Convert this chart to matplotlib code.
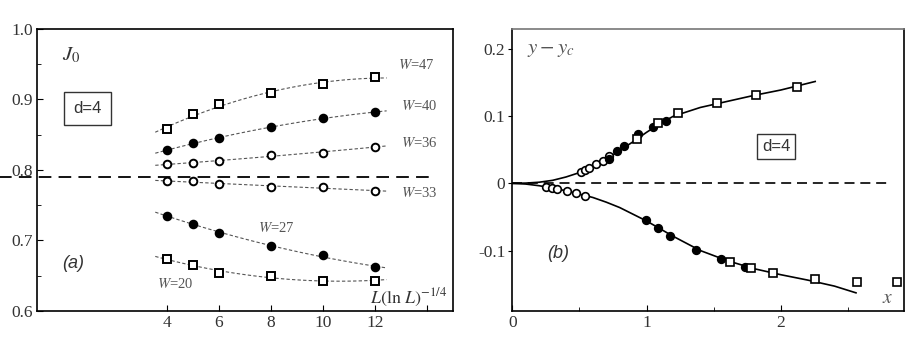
import numpy as np
import matplotlib
matplotlib.use('Agg')
import matplotlib.pyplot as plt

plt.rcParams['font.family'] = 'Liberation Serif'
plt.rcParams['mathtext.fontset'] = 'stix'

# ---- panel (a) data: J0 vs L(lnL)^-1/4 for several W
L_vals = [4, 5, 6, 8, 10, 12]
J_w47 = [0.8575, 0.879, 0.8935, 0.9086, 0.9219, 0.9318]
J_w40 = [0.828, 0.838, 0.845, 0.861, 0.873, 0.882]
J_w36 = [0.808, 0.810, 0.813, 0.821, 0.824, 0.833]
J_w33 = [0.784, 0.784, 0.780, 0.776, 0.776, 0.770]
J_w27 = [0.735, 0.724, 0.710, 0.692, 0.679, 0.6625]
J_w20 = [0.674, 0.665, 0.654, 0.649, 0.643, 0.643]
J_crit = 0.790

# ---- panel (b) data: scaled collapse
up_open_x = [0.512, 0.539, 0.569, 0.621, 0.673, 0.723]
up_open_y = [0.0169, 0.0199, 0.0234, 0.0289, 0.0338, 0.0413]
up_fill_x = [0.723, 0.778, 0.830, 0.939, 1.046, 1.148]
up_fill_y = [0.0368, 0.0483, 0.0562, 0.0741, 0.0836, 0.0925]
up_sq_x = [0.927, 1.088, 1.232, 1.528, 1.816, 2.119]
up_sq_y = [0.0667, 0.090, 0.1055, 0.1194, 0.1323, 0.1428]

lo_open_x = [0.251, 0.296, 0.335, 0.405, 0.472, 0.542]
lo_open_y = [-0.005, -0.007, -0.009, -0.0114, -0.0144, -0.0184]
lo_fill_x = [0.994, 1.083, 1.178, 1.369, 1.553, 1.734]
lo_fill_y = [-0.0552, -0.0662, -0.0786, -0.0985, -0.1124, -0.1249]
lo_sq_x = [1.620, 1.779, 1.943, 2.253, 2.566, 2.867]
lo_sq_y = [-0.1169, -0.1264, -0.1338, -0.1423, -0.1463, -0.1473]

# scaling curves
up_curve_x = [0, 0.1, 0.2, 0.3, 0.4, 0.5, 0.6, 0.7, 0.8, 0.9, 1.0, 1.1, 1.2, 1.4, 1.6, 1.8, 2.0, 2.256]
up_curve_y = [0, 0.0004, 0.0017, 0.0045, 0.0095, 0.016, 0.025, 0.036, 0.049, 0.062, 0.076, 0.089, 0.100, 0.113, 0.122, 0.131, 0.139, 0.1517]
lo_curve_x = [0, 0.1, 0.2, 0.3, 0.4, 0.5, 0.6, 0.7, 0.8, 0.9, 1.0, 1.2, 1.4, 1.6, 1.8, 2.0, 2.2, 2.4, 2.56]
lo_curve_y = [0, -0.001, -0.0035, -0.007, -0.011, -0.016, -0.021, -0.028, -0.036, -0.046, -0.056, -0.079, -0.100, -0.115, -0.127, -0.136, -0.144, -0.153, -0.163]

fig = plt.figure(figsize=(9.13, 3.44), dpi=100)
ax1 = fig.add_axes([0.0405, 0.096, 0.4556, 0.820])
ax2 = fig.add_axes([0.5611, 0.096, 0.4294, 0.820])

txt = '#333333'
gray = '#555555'

# ---------------- panel (a)
series = [(J_w47, 's', 'white', r'$W$=47', (12.9, 0.949)),
          (J_w40, 'o', 'black', r'$W$=40', (13.0, 0.890)),
          (J_w36, 'o', 'white', r'$W$=36', (13.0, 0.838)),
          (J_w33, 'o', 'white', r'$W$=33', (13.0, 0.768)),
          (J_w27, 'o', 'black', r'$W$=27', (7.5, 0.717)),
          (J_w20, 's', 'white', r'$W$=20', (3.6, 0.638))]
xfit = np.linspace(3.55, 12.45, 100)
for J, m, fc, lab, pos in series:
    coef = np.polyfit(L_vals, J, 2)
    ax1.plot(xfit, np.polyval(coef, xfit), '--', color=gray, lw=0.8, dashes=(3, 2), zorder=1)
    ax1.plot(L_vals, J, m, mfc=fc, mec='black', mew=1.4, ms=5.5, ls='none', zorder=3)
    ax1.text(pos[0], pos[1], lab, fontsize=10.5, color=gray, ha='left', va='center')

ax1.plot([-2.45, 14.3], [J_crit, J_crit], color='black', lw=1.3, dashes=(7, 4), clip_on=False)

ax1.set_xlim(-1, 15)
ax1.set_ylim(0.6, 1.0)
ax1.set_xticks([4, 6, 8, 10, 12, 14])
ax1.set_xticklabels(['4', '6', '8', '10', '12', ''])
ax1.set_yticks([0.6, 0.7, 0.8, 0.9, 1.0])
ax1.set_yticklabels(['0.6', '0.7', '0.8', '0.9', '1.0'])
ax1.set_yticks([0.65, 0.75, 0.85, 0.95], minor=True)
ax1.tick_params(direction='in', length=4, labelsize=12.5, labelcolor=txt, pad=3)
ax1.tick_params(which='minor', direction='in', length=3)

ax1.text(-0.05, 0.962, r'$J_0$', fontsize=15, color=txt, ha='left', va='center')
ax1.text(0.95, 0.887, 'd=4', family='Liberation Sans', fontsize=12, color=txt,
         ha='center', va='center',
         bbox=dict(boxstyle='square,pad=0.55', fc='white', ec=txt, lw=1))
ax1.text(-0.05, 0.668, '(a)', family='Liberation Sans', style='italic', fontsize=13,
         color=txt, ha='left', va='center')
ax1.text(14.8, 0.618, r'$L(\ln\,L)^{-1/4}$', fontsize=13, color=txt, ha='right', va='center')

# ---------------- panel (b)
ax2.plot(up_curve_x, up_curve_y, color='black', lw=1.2, zorder=2)
ax2.plot(lo_curve_x, lo_curve_y, color='black', lw=1.2, zorder=2)
ax2.plot([0, 2.815], [0, 0], color='black', lw=1.2, dashes=(6, 3.5), zorder=1)

mk = dict(mec='black', mew=1.2, ms=5.5, ls='none', zorder=3)
ax2.plot(up_open_x, up_open_y, 'o', mfc='white', **mk)
ax2.plot(lo_open_x, lo_open_y, 'o', mfc='white', **mk)
ax2.plot(up_fill_x, up_fill_y, 'o', mfc='black', **mk)
ax2.plot(lo_fill_x, lo_fill_y, 'o', mfc='black', **mk)
ax2.plot(up_sq_x, up_sq_y, 's', mfc='white', **mk)
ax2.plot(lo_sq_x, lo_sq_y, 's', mfc='white', **mk)

ax2.set_xlim(0, 2.92)
ax2.set_ylim(-0.19, 0.23)
ax2.set_xticks([0, 1, 2])
ax2.set_xticks([0.5, 1.5, 2.5], minor=True)
ax2.set_yticks([-0.1, 0, 0.1, 0.2])
ax2.set_yticklabels(['-0.1', '0', '0.1', '0.2'])
ax2.tick_params(axis='x', which='both', direction='in', labelsize=12.5, labelcolor=txt, pad=3)
ax2.tick_params(axis='x', which='major', length=4)
ax2.tick_params(axis='x', which='minor', length=3)
ax2.tick_params(axis='y', direction='out', length=3, labelsize=12.5, labelcolor=txt, pad=2)

ax2.text(0.11, 0.199, r'$y-y_c$', fontsize=15, color=gray, ha='left', va='center')
ax2.text(2.75, -0.172, r'$x$', fontsize=14, color=gray, ha='left', va='center')
ax2.text(0.26, -0.104, '(b)', family='Liberation Sans', style='italic', fontsize=13,
         color=txt, ha='left', va='center')
ax2.text(1.965, 0.0547, 'd=4', family='Liberation Sans', fontsize=12, color=txt,
         ha='center', va='center',
         bbox=dict(boxstyle='square,pad=0.3', fc='white', ec=txt, lw=1))

for ax in (ax1, ax2):
    for s in ax.spines.values():
        s.set_linewidth(1.2)
ax2.spines['top'].set_color('#777777')

fig.savefig('out.png', dpi=100)
